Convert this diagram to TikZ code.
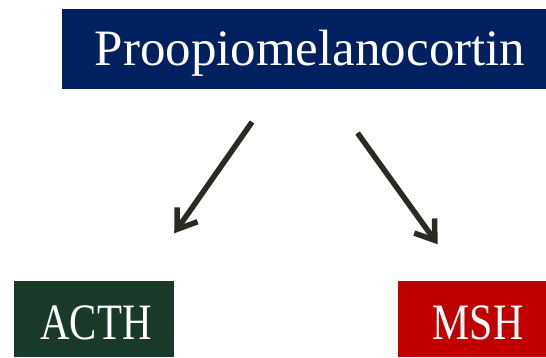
\documentclass[tikz,border=0pt]{standalone}
\usepackage{fontspec}
\setmainfont{Liberation Serif}
\usepackage{graphicx}
\usetikzlibrary{arrows.meta}

\definecolor{pomcblue}{HTML}{002060}
\definecolor{acthgreen}{HTML}{193A28}
\definecolor{mshred}{HTML}{C00000}
\definecolor{arrowgrey}{HTML}{2B2A22}

% label lowered a bit, box size kept
\newcommand{\lbl}[1]{\raisebox{-4pt}[\height][\depth]{#1}}

\tikzstyle{box} = [inner sep=0pt, text=white, font=\fontsize{51}{51}\selectfont]
\tikzstyle{arr} = [line width=5.5pt, draw=arrowgrey, -{Straight Barb[length=18pt,width=25pt]}]

\begin{document}
\begin{tikzpicture}[x=1pt,y=1pt]
  \useasboundingbox (0,0) rectangle (546,-357);
  \node (pomc) at (304,-49) [box, fill=pomcblue, minimum width=484pt, minimum height=80pt] {\hspace*{12pt}\lbl{Proopiomelanocortin}};
  \node (acth) at (94,-319) [box, fill=acthgreen, minimum width=160pt, minimum height=76pt] {\hspace*{4pt}\lbl{\scalebox{0.8}[1]{ACTH}}};
  \node (msh) at (472,-319) [box, fill=mshred, minimum width=148pt, minimum height=76pt] {\hspace*{12pt}\lbl{\scalebox{0.82}[1]{MSH}}};
  \draw [arr, shorten <=40pt, shorten >=58pt] ([xshift=-29pt]pomc.south) -- ([xshift=47pt]acth.north);
  \draw [arr, shorten <=54pt, shorten >=45pt] ([xshift=22pt]pomc.south) -- ([xshift=-8pt]msh.north);
\end{tikzpicture}
\end{document}
